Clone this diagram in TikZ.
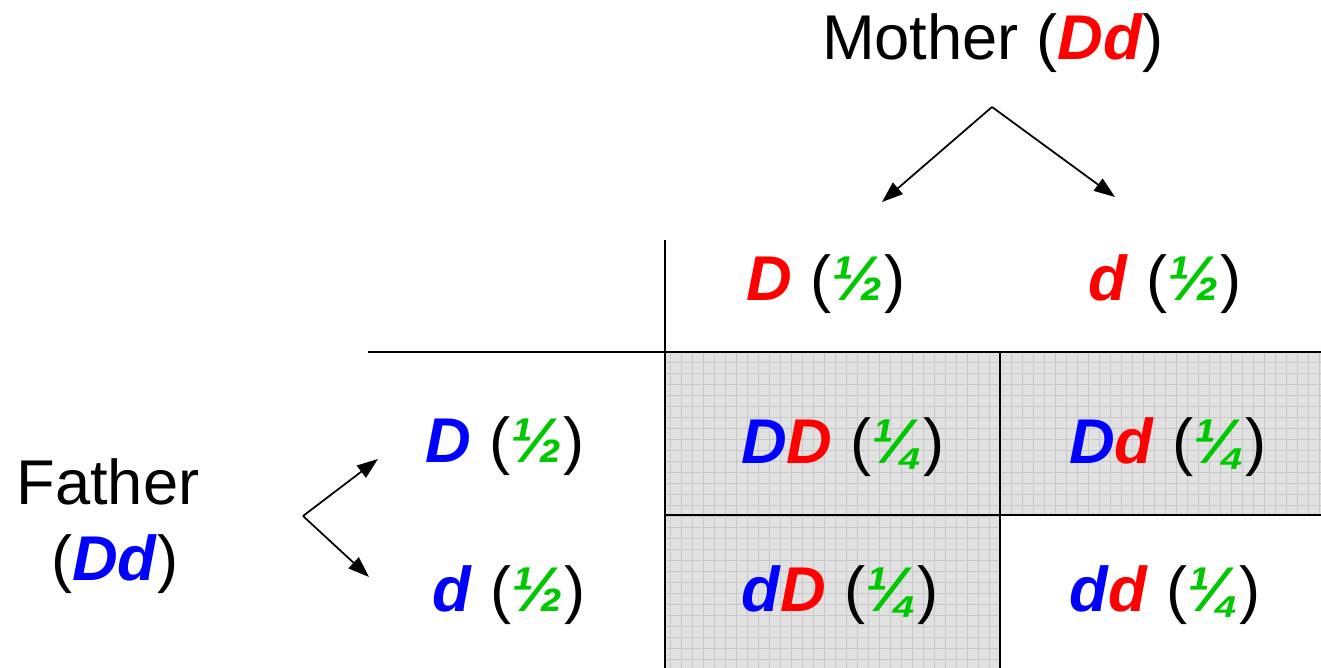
\documentclass[tikz,border=0pt]{standalone}
\usepackage{fontspec}
\setmainfont{Liberation Sans}
\usepackage{tikz}
\usetikzlibrary{positioning,arrows.meta,calc}
\definecolor{dadblue}{HTML}{0000FF}
\definecolor{momred}{HTML}{FF0000}
\definecolor{probgreen}{HTML}{00C800}
\definecolor{cellgray}{HTML}{E1E1E1}
\definecolor{gridgray}{HTML}{C8C8C8}
\newcommand{\dadal}[1]{\textcolor{dadblue}{\textbf{\textit{#1}}}}
\newcommand{\momal}[1]{\textcolor{momred}{\textbf{\textit{#1}}}}
\newcommand{\chance}[1]{(\textcolor{probgreen}{\textbf{\textit{#1}}})}

\begin{document}
\begin{tikzpicture}[x=0.02cm,y=-0.02cm,
    lbl/.style={anchor=base,inner sep=0pt,font=\fontsize{36}{40}\selectfont},
    branch/.style={line width=1pt,-{Triangle[length=0.42cm,width=0.3cm]}},
    rule/.style={line width=1.1pt},
    cellrule/.style={line width=1.4pt}]
    \useasboundingbox (0,0) rectangle (1321,668);

    % shaded cells
    \begin{scope}
      \clip (665,352) -- (1321,352) -- (1321,515) -- (1000,515) -- (1000,668) -- (665,668) -- cycle;
      \fill[cellgray] (665,352) rectangle (1321,668);
      \draw[gridgray,line width=0.5pt,step=0.22cm] (665,352) grid (1321,668);
    \end{scope}

    % table lines
    \draw[rule] (665,240) -- (665,668);
    \draw[rule] (368,352) -- (665,352);
    \draw[cellrule] (665,352) -- (1321,352);
    \draw[cellrule] (665,515) -- (1321,515);
    \draw[cellrule] (1000,352) -- (1000,668);

    % parents
    \node[lbl] (mother) at (993,60) {Mother (\momal{Dd})};
    \node[lbl] (father) at (108,504) {Father};
    \node[lbl] (fathergt) at (115,580) {(\dadal{Dd})};

    % gametes
    \node[lbl] (momD) at (826,301) {\momal{D} \chance{½}};
    \node[lbl] (momd) at (1165,301) {\momal{d} \chance{½}};
    \node[lbl] (dadD) at (505,462) {\dadal{D} \chance{½}};
    \node[lbl] (dadd) at (509,611) {\dadal{d} \chance{½}};

    % offspring
    \node[lbl] (DD) at (843,463) {\dadal{D}\momal{D} \chance{¼}};
    \node[lbl] (Dd) at (1168,463) {\dadal{D}\momal{d} \chance{¼}};
    \node[lbl] (dD) at (840,611) {\dadal{d}\momal{D} \chance{¼}};
    \node[lbl] (dd) at (1165,611) {\dadal{d}\momal{d} \chance{¼}};

    % branching arrows
    \coordinate (momsplit) at (992,107);
    \coordinate (momleft) at (882,202);
    \coordinate (momright) at (1115,197);
    \coordinate (dadsplit) at (303,516);
    \coordinate (dadup) at (378,459);
    \coordinate (daddown) at (369,577);
    \draw[branch] (momsplit) -- (momleft);
    \draw[branch] (momsplit) -- (momright);
    \draw[branch] (dadsplit) -- (dadup);
    \draw[branch] (dadsplit) -- (daddown);
\end{tikzpicture}
\end{document}
